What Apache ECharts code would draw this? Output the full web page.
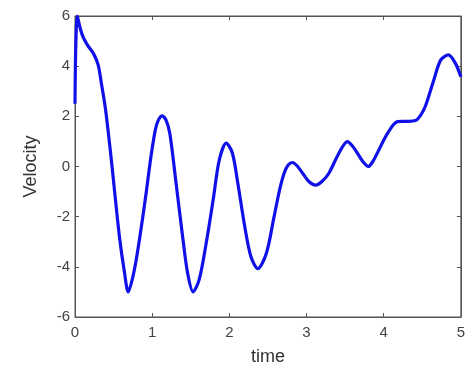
<!DOCTYPE html>
<html><head><meta charset="utf-8">
<script src="https://cdn.jsdelivr.net/npm/echarts@6/dist/echarts.min.js"></script>
<style>html,body{margin:0;padding:0;background:#fff}#c{width:468px;height:375px}</style>
</head><body><div id="c"></div>
<script>
const time = [0.00,0.01,0.03,0.06,0.10,0.16,0.24,0.30,0.34,0.39,0.43,0.48,0.52,0.58,0.64,0.69,0.75,0.80,0.86,0.92,0.98,1.04,1.08,1.13,1.18,1.23,1.31,1.40,1.46,1.53,1.61,1.70,1.79,1.87,1.96,2.04,2.11,2.20,2.28,2.37,2.48,2.58,2.65,2.71,2.76,2.82,2.88,2.95,3.03,3.12,3.20,3.29,3.42,3.53,3.60,3.66,3.73,3.80,3.86,3.92,4.05,4.18,4.30,4.41,4.48,4.54,4.65,4.74,4.84,4.93,5.00];
const velocity = [2.5,4.8,6.0,5.6,5.2,4.85,4.5,4.05,3.35,2.4,1.4,0.0,-1.2,-2.9,-4.2,-5.0,-4.4,-3.6,-2.4,-1.1,0.3,1.45,1.85,2.02,1.85,1.3,-0.67,-2.93,-4.26,-5.0,-4.5,-3.06,-1.34,0.26,0.93,0.53,-0.67,-2.4,-3.6,-4.07,-3.46,-2.0,-0.95,-0.27,0.05,0.16,0.02,-0.27,-0.6,-0.74,-0.6,-0.27,0.53,0.99,0.8,0.53,0.2,0.0,0.2,0.55,1.32,1.79,1.8,1.83,2.05,2.4,3.45,4.25,4.45,4.11,3.58];
const xTicks = [0,1,2,3,4,5];
const yTicks = [-6,-4,-2,0,2,4,6];

const font = 'Liberation Sans, Arial, sans-serif';
const axisCol = '#555';
const chart = echarts.init(document.getElementById('c'));
const tickCommon = {show:true, inside:true, length:4, lineStyle:{color:axisCol}};
chart.setOption({
  animation:false,
  grid:{left:75,right:6,top:16,bottom:58,show:true,borderColor:axisCol,borderWidth:1},
  xAxis:[{type:'value',min:xTicks[0],max:xTicks[xTicks.length-1],interval:1,
    name:'time',nameLocation:'middle',nameGap:31,
    nameTextStyle:{fontFamily:font,fontSize:18,color:'#333'},
    axisLine:{show:true,onZero:false,lineStyle:{color:axisCol}},axisTick:tickCommon,
    axisLabel:{fontFamily:font,fontSize:15,color:'#444',margin:8},
    splitLine:{show:false}},
   {type:'value',position:'top',min:0,max:5,interval:1,
    axisLine:{show:true,onZero:false,lineStyle:{color:axisCol}},axisTick:tickCommon,
    axisLabel:{show:false},splitLine:{show:false}}],
  yAxis:[{type:'value',min:yTicks[0],max:yTicks[yTicks.length-1],interval:2,
    name:'Velocity',nameLocation:'middle',nameGap:35,
    nameTextStyle:{fontFamily:font,fontSize:18,color:'#333'},
    axisLine:{show:true,onZero:false,lineStyle:{color:axisCol}},axisTick:tickCommon,
    axisLabel:{fontFamily:font,fontSize:15,color:'#444',margin:5},
    splitLine:{show:false}},
   {type:'value',position:'right',min:-6,max:6,interval:2,
    axisLine:{show:true,onZero:false,lineStyle:{color:axisCol}},axisTick:tickCommon,
    axisLabel:{show:false},splitLine:{show:false}}],
  series:[{type:'line',xAxisIndex:0,yAxisIndex:0,
    data:time.map((t,i)=>[t,velocity[i]]),
    showSymbol:false,smooth:0.3,
    lineStyle:{color:'#1010e8',width:3.2}}]
});
</script></body></html>
